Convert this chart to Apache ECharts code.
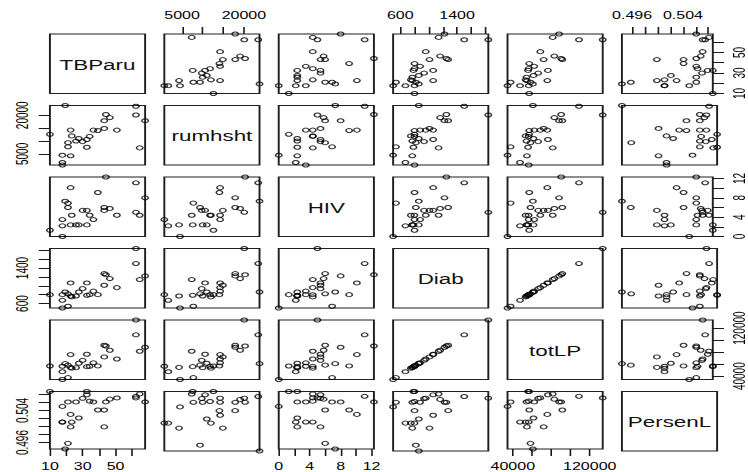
<!DOCTYPE html>
<html><head><meta charset="utf-8">
<script src="https://cdn.jsdelivr.net/npm/echarts@6.0.0/dist/echarts.min.js"></script>
<style>
html,body{margin:0;padding:0;background:#fff;overflow:hidden;width:748px;height:472px}
#c{width:467.5px;height:472px;transform:scaleX(1.6);transform-origin:0 0;}
</style>
</head><body><div id="c"></div>
<script>
// ---- data (one value per observation) ----
const varNames = ['TBParu','rumhsht','HIV','Diab','totLP','PersenL'];
const TBParu  = [68, 64.7, 62.4, 62.4, 50.8, 46.5, 44.1, 43.1, 43.1, 39.2, 36.5, 34.2, 32.5, 32.5, 29.9, 27.6, 25.9, 23.3, 22.6, 22.6, 21.0, 21.0, 19.3, 17.6, 17.6, 17.6, 10.0];
const rumhsht = [17900, 7350, 20100, 23500, 14240, 19100, 20300, 14900, 17900, 14070, 14240, 11800, 7590, 10590, 9780, 11000, 10000, 12000, 14240, 4270, 9370, 7750, 23800, 4510, 1670, 700, 12620];
const HIV     = [8.0, 4.4, 5.0, 11.1, 4.4, 5.8, 12.3, 5.4, 6.0, 9.1, 3.5, 4.4, 2.4, 5.4, 5.4, 2.4, 2.4, 4.4, 10.1, 2.4, 6.0, 6.9, 7.3, 0.0, 2.2, 3.5, 1.3];
const Diab    = [1223, 1140, 1840, 1501, 959, 1162, 1250, 1012, 1275, 801, 880, 800, 786, 1064, 936, 861, 770, 750, 1064, 770, 820, 540, 861, 500, 673, 801, 801];
const totLP   = [88100, 81500, 133500, 108800, 68600, 83200, 90300, 72100, 91500, 57100, 62300, 56400, 55900, 76500, 66400, 61500, 54200, 53300, 75900, 54700, 58400, 37700, 60900, 34500, 47500, 56500, 57000];
const PersenL = [0.5061, 0.5081, 0.5071, 0.5075, 0.5071, 0.5068, 0.5061, 0.4999, 0.5041, 0.5041, 0.5061, 0.5063, 0.5087, 0.5079, 0.5070, 0.5021, 0.5061, 0.5011, 0.5030, 0.4999, 0.4958, 0.5061, 0.4944, 0.5050, 0.5011, 0.5011, 0.5087];

// ---- tick marks and tick labels ----
const ticksTBParu  = [10, 20, 30, 40, 50, 60];
const labelsTBParu = [10, 30, 50];
const ticksRumhsht  = [5000, 10000, 15000, 20000];
const labelsRumhsht = [5000, 20000];
const ticksHIV  = [0, 2, 4, 6, 8, 10, 12];
const labelsHIV = [0, 4, 8, 12];
const ticksDiab  = [600, 800, 1000, 1200, 1400, 1600, 1800];
const labelsDiab = [600, 1400];
const ticksTotLP  = [40000, 60000, 80000, 100000, 120000];
const labelsTotLP = [40000, 120000];
const ticksPersenL  = [0.496, 0.498, 0.500, 0.502, 0.504, 0.506, 0.508];
const labelsPersenL = [0.496, 0.504];

const cols   = [TBParu, rumhsht, HIV, Diab, totLP, PersenL];
const ticks  = [ticksTBParu, ticksRumhsht, ticksHIV, ticksDiab, ticksTotLP, ticksPersenL];
const labels = [labelsTBParu, labelsRumhsht, labelsHIV, labelsDiab, labelsTotLP, labelsPersenL];

// ---- layout ----
const X0 = 31.2, Y0 = 34, STEP = 71.5, PANEL = 59.5;
const N = varNames.length;
const FONT = '"Liberation Sans", Arial, sans-serif';

const grids = [], xAxes = [], yAxes = [], series = [], graphics = [];

function axisCfg(k, g, dim, show, pos) {
  const vals = cols[k];
  const a = {
    type: 'value', gridIndex: g,
    min: Math.min(...vals), max: Math.max(...vals),
    splitLine: { show: false }, axisLine: { show: false }, axisPointer: { show: false }
  };
  if (!show) {
    a.axisTick = { show: false }; a.axisLabel = { show: false };
    return a;
  }
  a.position = pos;
  a.axisTick = { show: true, inside: false, length: 7, customValues: ticks[k], lineStyle: { color: '#1a1a1a', width: 1 } };
  a.axisLabel = {
    show: true, customValues: labels[k], formatter: v => String(v),
    fontSize: 10, fontFamily: FONT, color: '#000',
    margin: dim === 'x' ? 13 : 12, rotate: dim === 'y' ? 90 : 0,
    hideOverlap: false, showMinLabel: true, showMaxLabel: true
  };
  return a;
}

for (let i = 0; i < N; i++) {
  for (let j = 0; j < N; j++) {
    const g = i * N + j;
    grids.push({
      left: X0 + j * STEP, top: Y0 + i * STEP, width: PANEL, height: PANEL,
      show: true, borderColor: '#1f1f1f', borderWidth: 1.2, backgroundColor: 'transparent'
    });
    let xShow = false, xPos = 'bottom';
    if (i === 0 && j % 2 === 1) { xShow = true; xPos = 'top'; }
    if (i === N - 1 && j % 2 === 0) { xShow = true; xPos = 'bottom'; }
    let yShow = false, yPos = 'left';
    if (j === 0 && i % 2 === 1) { yShow = true; yPos = 'left'; }
    if (j === N - 1 && i % 2 === 0) { yShow = true; yPos = 'right'; }
    xAxes.push(axisCfg(j, g, 'x', xShow, xPos));
    yAxes.push(axisCfg(i, g, 'y', yShow, yPos));
    if (i !== j) {
      series.push({
        type: 'scatter', xAxisIndex: g, yAxisIndex: g,
        data: cols[j].map((v, k) => [v, cols[i][k]]),
        symbol: 'circle', symbolSize: 4, clip: true, silent: true,
        itemStyle: { color: 'rgba(0,0,0,0)', borderColor: '#000', borderWidth: 1 }
      });
    } else {
      graphics.push({
        type: 'text', x: X0 + j * STEP + PANEL / 2, y: Y0 + i * STEP + PANEL / 2 + 1,
        silent: true,
        style: { text: varNames[i], fontSize: 14, fontFamily: FONT, fill: '#111', align: 'center', verticalAlign: 'middle' }
      });
    }
  }
}

const chart = echarts.init(document.getElementById('c'), null, { renderer: 'svg', width: 467.5, height: 472 });
chart.setOption({
  animation: false,
  backgroundColor: '#fff',
  grid: grids, xAxis: xAxes, yAxis: yAxes, series: series, graphic: graphics
});
</script>
</body></html>
